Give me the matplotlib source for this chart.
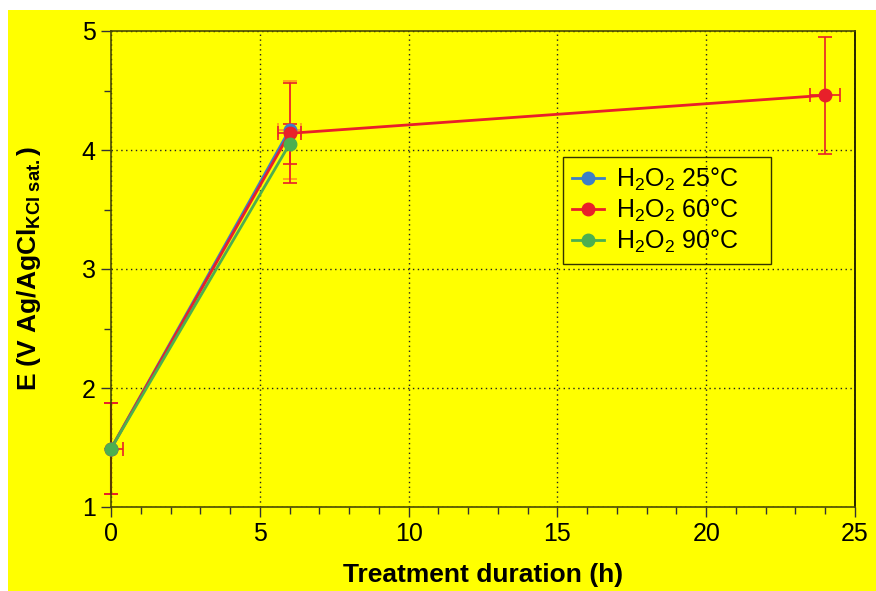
import numpy as np
import matplotlib
matplotlib.use("Agg")
import matplotlib.pyplot as plt
from matplotlib.patches import Rectangle
from matplotlib.ticker import MultipleLocator

plt.rcParams['font.family'] = ['Liberation Sans', 'DejaVu Sans']
plt.rcParams['mathtext.fontset'] = 'custom'
plt.rcParams['mathtext.rm'] = 'Liberation Sans'
plt.rcParams['mathtext.bf'] = 'Liberation Sans:bold'
plt.rcParams['mathtext.it'] = 'Liberation Sans:italic'

# data
t_25 = [0, 6]
e_25 = [1.49, 4.17]
t_60 = [0, 6, 24]
e_60 = [1.49, 4.14, 4.46]
t_90 = [0, 6]
e_90 = [1.49, 4.05]

# error bars (x errors given as [left, right])
yerr_25 = [0.38, 0.41]
xerr_25 = [[0.0, 0.4], [0.0, 0.4]]
yerr_60 = [0.38, 0.42, 0.49]
xerr_60 = [[0.0, 0.4, 0.5], [0.4, 0.4, 0.5]]
yerr_90 = [0.38, 0.17]
xerr_90 = [[0.0, 0.0], [0.0, 0.0]]

labels = ['H$_\\mathrm{2}$O$_\\mathrm{2}$ 25°C',
          'H$_\\mathrm{2}$O$_\\mathrm{2}$ 60°C',
          'H$_\\mathrm{2}$O$_\\mathrm{2}$ 90°C']

yellow = '#ffff00'
c_blue = '#3d7fc6'
c_red = '#e8202a'
c_green = '#4caf50'

fig = plt.figure(figsize=(8.76, 5.91), dpi=100)
fig.patch.set_facecolor('white')
fig.patches.append(Rectangle((8/876, 0), 1 - 8/876, 1 - 10/591,
                             transform=fig.transFigure, facecolor=yellow,
                             edgecolor='none', zorder=-10))
ax = fig.add_axes([111/876, 1 - 507/591, (855-111)/876, (507-31)/591])
ax.set_facecolor(yellow)

# error bars first (underneath the lines)
eb_kw = dict(fmt='none', elinewidth=1.2, capsize=5, capthick=1.2, zorder=2, clip_on=False)
ax.errorbar(t_25, e_25, yerr=yerr_25, xerr=xerr_25, ecolor='#ff9a1a', **eb_kw)
ax.errorbar(t_90, e_90, yerr=yerr_90, xerr=xerr_90, ecolor=c_red, **eb_kw)
ax.errorbar(t_60, e_60, yerr=yerr_60, xerr=xerr_60, ecolor=c_red, **eb_kw)
ax.plot([0, 0], [e_60[0] - yerr_60[0], e_60[0] + yerr_60[0]], color='#aa0000',
        lw=1.5, zorder=2.5, clip_on=False)

ax.plot(t_25, e_25, '-o', color=c_blue, lw=2, ms=9, label=labels[0], zorder=3, clip_on=False)
ax.plot(t_60, e_60, '-o', color=c_red, lw=2, ms=9, label=labels[1], zorder=4, clip_on=False)
ax.plot(t_90, e_90, '-o', color=c_green, lw=2, ms=9, label=labels[2], zorder=5, clip_on=False)

ax.set_xlim(0, 25)
ax.set_ylim(1, 5)
ax.xaxis.set_major_locator(MultipleLocator(5))
ax.xaxis.set_minor_locator(MultipleLocator(1))
ax.yaxis.set_major_locator(MultipleLocator(1))
ax.yaxis.set_minor_locator(MultipleLocator(0.5))
ax.tick_params(which='both', direction='out', top=False, right=False,
               color='#333333', labelsize=18)
ax.tick_params(which='major', length=7, width=1, pad=4)
ax.tick_params(which='minor', length=5, width=1)
ax.grid(True, which='major', color='#222222', linestyle=(0, (1, 2.5)), lw=1)

for s in ax.spines.values():
    s.set_color('#4a4a00')
    s.set_linewidth(1.2)
ax.spines['right'].set_color('black')

ax.set_xlabel('Treatment duration (h)', fontsize=19, fontweight='bold', labelpad=12)
ax.set_ylabel('E (V Ag/AgCl$_\\mathbf{KCl\\ sat.}$)', fontsize=19,
              fontweight='bold', labelpad=28)

x0 = (563 - 111) / 744
y0 = 1 - (157 - 31) / 476
leg = ax.legend(loc='upper left', bbox_to_anchor=(x0, y0 - 0.3, (771 - 563) / 744, 0.3),
                mode='expand', fontsize=18, frameon=True, fancybox=False, numpoints=1,
                handlelength=1.3, borderaxespad=0, labelspacing=0.15,
                handletextpad=0.45, borderpad=0.35)
leg.get_frame().set_edgecolor('black')
leg.get_frame().set_facecolor('none')
leg.get_frame().set_linewidth(1)

fig.savefig('out.png', dpi=100)
